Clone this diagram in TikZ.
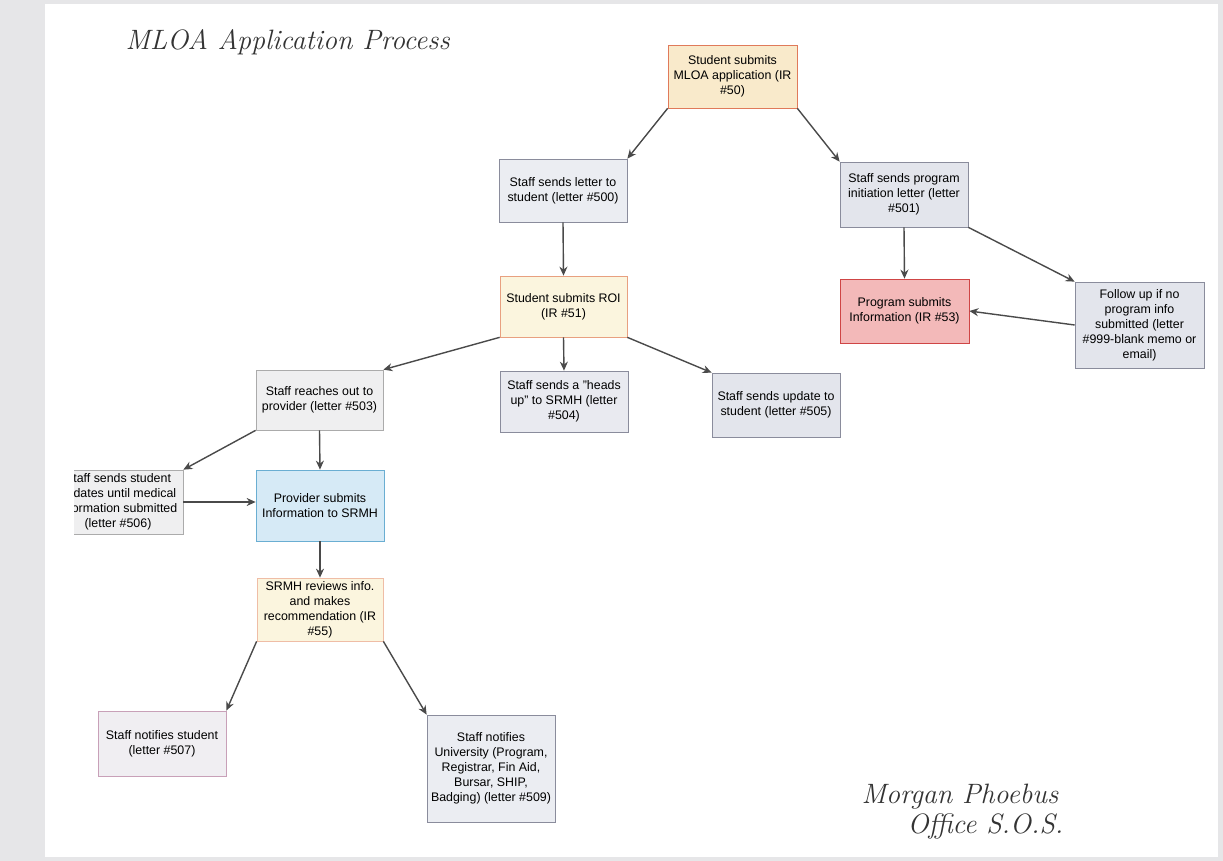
\documentclass[tikz,border=0pt]{standalone}
\usepackage{fontspec}
\setsansfont{Liberation Sans}
\usetikzlibrary{arrows.meta}
\definecolor{strip}{HTML}{E6E6E8}
\definecolor{arrowc}{HTML}{4A4A4A}
\definecolor{ink}{HTML}{333333}
\definecolor{peachfill}{HTML}{F9EACB}
\definecolor{peachdraw}{HTML}{E07A5A}
\definecolor{yelfill}{HTML}{FBF5DE}
\definecolor{yeldraw}{HTML}{E8A080}
\definecolor{redfill}{HTML}{F3B9B9}
\definecolor{reddraw}{HTML}{CF4545}
\definecolor{bluefill}{HTML}{D6EAF6}
\definecolor{bluedraw}{HTML}{6AAED2}
\definecolor{grayfill}{HTML}{E3E5EC}
\definecolor{graydraw}{HTML}{8A8C9C}
\definecolor{lightfill}{HTML}{EFEFF0}
\definecolor{lightdraw}{HTML}{ABABAB}
\definecolor{pinkdraw}{HTML}{C8A0B8}
\definecolor{notefill}{HTML}{F0EEF2}
\begin{document}
\begin{tikzpicture}[x=1pt,y=-1pt,
  box/.style={draw=graydraw, fill=grayfill, line width=0.7pt, inner sep=0pt,
    align=center, text=black, font=\sffamily\fontsize{12.4}{15}\selectfont},
  flow/.style={draw=arrowc, line width=1.4pt, -{Stealth[length=9pt,width=8pt]}},
  hand/.style={text=ink, font=\itshape\fontsize{28}{30}\selectfont}]
\useasboundingbox (0,0) rectangle (1223,861);
\fill[strip] (0,0) rectangle (1223,861);
\fill[white] (45,4) rectangle (1218,857);

% handwriting
\node[hand, anchor=west] (title) at (122,42) {MLOA Application Process};
\node[hand, anchor=west] (sig1) at (858,797) {Morgan Phoebus};
\node[hand, anchor=west] (sig2) at (904,826) {Office S.O.S.};

% boxes
\node[box, fill=peachfill, draw=peachdraw, minimum width=129pt, minimum height=63pt] (n50) at (732.5,76.5) {Student submits\\MLOA application (IR\\\#50)};
\node[box, fill=grayfill!70!white, minimum width=128pt, minimum height=63pt] (n500) at (563,190.5) {Staff sends letter to\\student (letter \#500)};
\node[box, minimum width=128pt, minimum height=65pt] (n501) at (904,194.5) {Staff sends program\\initiation letter (letter\\\#501)};
\node[box, fill=yelfill, draw=yeldraw, minimum width=127pt, minimum height=61pt] (n51) at (563.5,306.5) {Student submits ROI\\(IR \#51)};
\node[box, fill=redfill, draw=reddraw, minimum width=129pt, minimum height=64pt] (n53) at (904.5,311) {Program submits\\Information (IR \#53)};
\node[box, minimum width=129pt, minimum height=86pt] (n999) at (1139.5,325) {Follow up if no\\program info\\submitted (letter\\\#999-blank memo or\\email)};
\node[box, fill=lightfill, draw=lightdraw, minimum width=127pt, minimum height=60pt] (n503) at (319.5,400) {Staff reaches out to\\provider (letter \#503)};
\node[box, fill=grayfill!80!white, minimum width=128pt, minimum height=61pt] (n504) at (564,401.5) {Staff sends a "heads\\up" to SRMH (letter\\\#504)};
\node[box, minimum width=128pt, minimum height=64pt] (n505) at (776,405) {Staff sends update to\\student (letter \#505)};
\begin{scope}
\clip (74,0) rectangle (1223,861);
\node[box, fill=lightfill, draw=lightdraw, minimum width=130pt, minimum height=64pt] (n506) at (118,502) {Staff sends student\\updates until medical\\information submitted\\(letter \#506)};
\end{scope}
\node[box, fill=bluefill, draw=bluedraw, minimum width=128pt, minimum height=71pt] (nprov) at (320,505.5) {Provider submits\\Information to SRMH};
\node[box, fill=yelfill, draw=yeldraw!70!white, minimum width=126pt, minimum height=63pt] (n55) at (320,609.5) {SRMH reviews info.\\and makes\\recommendation (IR\\\#55)};
\node[box, fill=notefill, draw=pinkdraw, minimum width=128pt, minimum height=65pt] (n507) at (162,743.5) {Staff notifies student\\(letter \#507)};
\node[box, fill=grayfill!70!white, minimum width=128pt, minimum height=107pt] (n509) at (491,768.5) {Staff notifies\\University (Program,\\Registrar, Fin Aid,\\Bursar, SHIP,\\Badging) (letter \#509)};

% connectors
\draw[flow] (n50.south west) -- (n500.north east);
\draw[flow] (n50.south east) -- (n501.north west);
\draw[flow] (n500.south) -- (n51.north);
\draw[flow] (n501.south) -- (n53.north);
\draw[flow] (n501.south east) -- (n999.north west);
\draw[flow] (n999.west) -- (n53.east);
\draw[flow] (n51.south west) -- (n503.north east);
\draw[flow] (n51.south) -- (n504.north);
\draw[flow] (n51.south east) -- (n505.north west);
\draw[flow] (n503.south west) -- (n506.north east);
\draw[flow] (n503.south) -- (nprov.north);
\draw[flow] (n506.east) -- (n506.east -| nprov.west);
\draw[flow] (nprov.south) -- (n55.north);
\draw[flow] (n55.south west) -- (n507.north east);
\draw[flow] (n55.south east) -- (n509.north west);
\end{tikzpicture}
\end{document}
